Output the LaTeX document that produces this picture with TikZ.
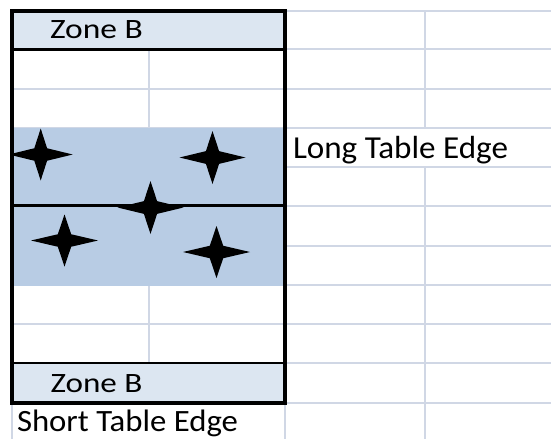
\documentclass[tikz,border=0pt]{standalone}
\usepackage{fontspec}
\setmainfont{Carlito}
\usepackage{graphicx}
\definecolor{gridc}{HTML}{D0D7E5}
\definecolor{zonec}{HTML}{DCE6F1}
\definecolor{bandc}{HTML}{B8CCE4}
\newcommand{\fourstar}[4]{% cx cy halfwidth halfheight
  \fill[black] ({#1+#3},{#2}) -- ({#1+0.2*#3},{#2-0.24*#4}) --
    ({#1},{#2-#4}) -- ({#1-0.2*#3},{#2-0.24*#4}) --
    ({#1-#3},{#2}) -- ({#1-0.2*#3},{#2+0.24*#4}) --
    ({#1},{#2+#4}) -- ({#1+0.2*#3},{#2+0.24*#4}) -- cycle;}
\begin{document}
\begin{tikzpicture}[x=1pt,y=-1pt,
  gridline/.style={draw=gridc,line width=2pt},
  edgeline/.style={draw=black,line width=3.5pt},
  divider/.style={draw=black,line width=2.5pt},
  lbl/.style={inner sep=0pt,outer sep=0pt,anchor=base west,text=black}]
\useasboundingbox (0,0) rectangle (551,439);
\fill[white] (0,0) rectangle (551,439);
% light grid
\foreach \y in {11,49.3,88.5,128,167.3,206.3,245.8,285.2,323.8,363.2,403}
  \draw[gridline] (12,\y) -- (551,\y);
\draw[gridline] (12,11) -- (12,439);
\draw[gridline] (148.5,11) -- (148.5,403);
\draw[gridline] (285,11) -- (285,439);
\draw[gridline] (425,11) -- (425,128);
\draw[gridline] (425,167.3) -- (425,439);
% fills
\fill[zonec] (12,11) rectangle (285,49.3);
\fill[zonec] (12,363.2) rectangle (285,403);
\fill[bandc] (12,128) rectangle (285,285.8);
% stars
\begin{scope}
\clip (12,11) rectangle (285,403);
\fourstar{40.7}{154.5}{32}{26}
\fourstar{212.5}{157.5}{33}{26.5}
\fourstar{150.5}{207.5}{33}{26.5}
\fourstar{64.5}{240.5}{33.5}{26}
\fourstar{216.5}{252}{33.5}{26}
\end{scope}
% black lines
\draw[divider] (12,49.3) -- (285,49.3);
\draw[divider] (12,205.5) -- (285,205.5);
\draw[divider] (12,363.2) -- (285,363.2);
\draw[edgeline] (12,11) rectangle (285,403);
% texts
\node[lbl] (zonetop) at (50,38.5) {\resizebox{93pt}{\height}{\fontsize{28}{30}\selectfont Zone B}};
\node[lbl] (zonebot) at (50.5,392.5) {\resizebox{92pt}{\height}{\fontsize{28}{30}\selectfont Zone B}};
\node[lbl] (longedge) at (293,158.5) {\resizebox{215pt}{\height}{\fontsize{32}{34}\selectfont Long Table Edge}};
\node[lbl] (shortedge) at (17,431.5) {\resizebox{221pt}{\height}{\fontsize{31}{33}\selectfont Short Table Edge}};
\end{tikzpicture}
\end{document}
